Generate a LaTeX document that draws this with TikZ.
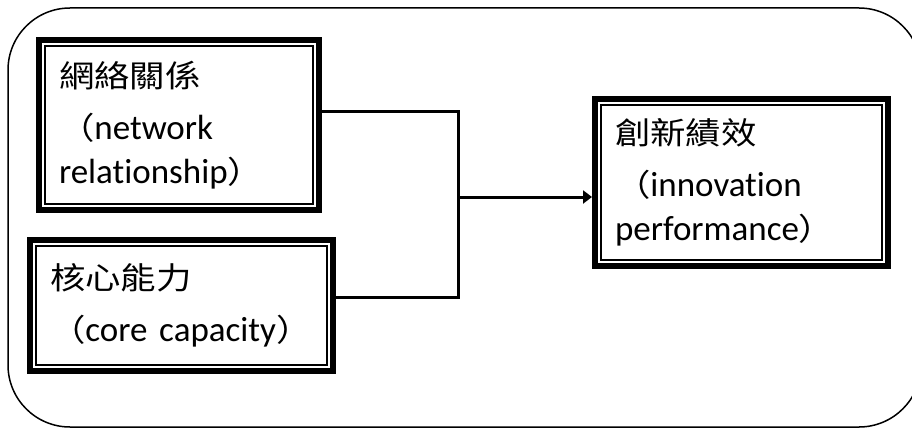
\documentclass[tikz,border=0pt]{standalone}
\usepackage{fontspec}
\setmainfont[Ligatures=NoCommon]{Carlito}
\newfontfamily\cjk[FakeStretch=1.15,Scale=0.88]{Noto Sans CJK TC}
\usetikzlibrary{arrows.meta}

\tikzset{
  framebox/.style={draw,line width=6pt,inner xsep=20pt,inner ysep=0pt,align=left,
    font=\fontsize{35}{44}\selectfont},
  innerline/.style={line width=2pt},
  link/.style={line width=3pt},
}

\begin{document}
\begin{tikzpicture}[x=1pt,y=-1pt]
			\useasboundingbox (0,0) rectangle (912,428);
			\clip (0,0) rectangle (912,428);
			\draw[line width=1.5pt,rounded corners=62pt] (8,8) rectangle (921,427);
			
			\node[framebox,minimum width=280pt,minimum height=170pt,text width=240pt] (NetworkRel) at (179,125)
				{{\cjk 網絡關係}\\[8pt]{\cjk （}network\\relationship{\cjk ）}};
			\node[framebox,minimum width=303pt,minimum height=131pt,text width=263pt] (CoreCap) at (181.5,305.5)
				{{\cjk 核心能力}\\[8pt]{\cjk （}core capacity{\cjk ）}};
			\node[framebox,minimum width=293pt,minimum height=167pt,text width=253pt] (InnovPerf) at (741.5,182.5)
				{{\cjk 創新績效}\\[8pt]{\cjk （}innovation\\performance{\cjk ）}};
			
			\foreach \n in {NetworkRel,CoreCap,InnovPerf}
				\draw[innerline] ([shift={(9pt,-9pt)}]\n.north west) rectangle ([shift={(-9pt,9pt)}]\n.south east);
			
			\coordinate (Join) at (458,197);
			\draw[link] ([yshift=14pt]NetworkRel.east) -| (Join);
			\draw[link] ([yshift=8.5pt]CoreCap.east) -| (Join);
			\draw[link,-{Triangle[length=9pt,width=13pt]}] (Join) -- (Join -| InnovPerf.west);
\end{tikzpicture}
\end{document}
